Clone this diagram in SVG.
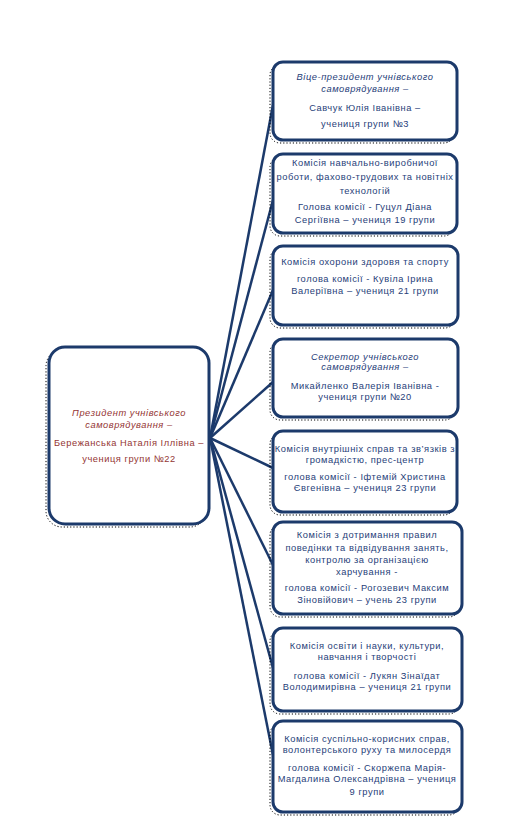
<svg xmlns="http://www.w3.org/2000/svg" width="511" height="822" viewBox="0 0 511 822">
<style>
.box{fill:#fff;stroke:#1c3a6b;stroke-width:3}
.sh{fill:none;stroke:#000;stroke-width:1;stroke-dasharray:1.2 2}
.t{font-family:"Liberation Sans",Arial,sans-serif;font-size:9.3px;letter-spacing:0.55px;fill:#1f3e79;text-anchor:middle}
.i{font-style:italic}
.r{fill:#943634}
.c{stroke:#1c3a6b;stroke-width:2.5;fill:none}
</style>
<rect width="511" height="822" fill="#fff"/>
<g id="connectors">
<line class="c" x1="210" y1="438" x2="273" y2="105"/>
<line class="c" x1="210" y1="438" x2="273" y2="200"/>
<line class="c" x1="210" y1="438" x2="273" y2="290"/>
<line class="c" x1="210" y1="438" x2="273" y2="382"/>
<line class="c" x1="210" y1="438" x2="273" y2="468"/>
<line class="c" x1="210" y1="438" x2="273" y2="565"/>
<line class="c" x1="210" y1="438" x2="273" y2="668"/>
<line class="c" x1="210" y1="438" x2="273" y2="755"/>
</g>
<g id="president">
<rect class="sh" x="46" y="350" width="160" height="177" rx="16"/>
<rect class="box" x="49" y="347" width="160" height="177" rx="16"/>
<text class="t i r" x="129" y="416">Президент учнівського</text>
<text class="t i r" x="129" y="428">самоврядування –</text>
<text class="t r" x="129" y="446">Бережанська Наталія Іллівна –</text>
<text class="t r" x="129" y="462">учениця групи №22</text>
</g>
<g id="vice">
<rect class="sh" x="270" y="65" width="184" height="78" rx="10"/>
<rect class="box" x="273" y="62" width="184" height="78" rx="10"/>
<text class="t i" x="365" y="80">Віце-президент учнівського</text>
<text class="t i" x="365" y="92">самоврядування –</text>
<text class="t" x="365" y="111">Савчук Юлія Іванівна –</text>
<text class="t" x="365" y="127">учениця групи №3</text>
</g>
<g id="c1">
<rect class="sh" x="270" y="157" width="184" height="79" rx="10"/>
<rect class="box" x="273" y="154" width="184" height="79" rx="10"/>
<text class="t" x="365" y="166">Комісія навчально-виробничої</text>
<text class="t" x="365" y="180">роботи, фахово-трудових та новітніх</text>
<text class="t" x="365" y="194">технологій</text>
<text class="t" x="365" y="210">Голова комісії - Гуцул Діана</text>
<text class="t" x="365" y="223">Сергіївна – учениця 19 групи</text>
</g>
<g id="c2">
<rect class="sh" x="270" y="249" width="185" height="79" rx="10"/>
<rect class="box" x="273" y="246" width="185" height="79" rx="10"/>
<text class="t" x="365" y="265">Комісія охорони здоровя та спорту</text>
<text class="t" x="365" y="282">голова комісії - Кувіла Ірина</text>
<text class="t" x="365" y="294">Валеріївна – учениця 21 групи</text>
</g>
<g id="secretary">
<rect class="sh" x="270" y="342" width="185" height="78" rx="10"/>
<rect class="box" x="273" y="339" width="185" height="78" rx="10"/>
<text class="t i" x="365" y="360">Секретор учнівського</text>
<text class="t i" x="365" y="370">самоврядування –</text>
<text class="t" x="365" y="389">Микайленко Валерія Іванівна -</text>
<text class="t" x="365" y="400">учениця групи №20</text>
</g>
<g id="c3">
<rect class="sh" x="270" y="434" width="184" height="81" rx="10"/>
<rect class="box" x="273" y="431" width="184" height="81" rx="10"/>
<text class="t" x="365" y="452">Комісія внутрішніх справ та зв’язків з</text>
<text class="t" x="365" y="463">громадкістю, прес-центр</text>
<text class="t" x="365" y="480">голова комісії - Іфтемій Христина</text>
<text class="t" x="365" y="491">Євгенівна – учениця 23 групи</text>
</g>
<g id="c4">
<rect class="sh" x="270" y="525" width="189" height="92" rx="10"/>
<rect class="box" x="273" y="522" width="189" height="92" rx="10"/>
<text class="t" x="367" y="538">Комісія з дотримання правил</text>
<text class="t" x="367" y="551">поведінки та відвідування занять,</text>
<text class="t" x="367" y="563">контролю за організацією</text>
<text class="t" x="367" y="575">харчування -</text>
<text class="t" x="367" y="591">голова комісії -  Рогозевич Максим</text>
<text class="t" x="367" y="603">Зіновійович – учень 23 групи</text>
</g>
<g id="c5">
<rect class="sh" x="270" y="631" width="189" height="83" rx="10"/>
<rect class="box" x="273" y="628" width="189" height="83" rx="10"/>
<text class="t" x="367" y="649">Комісія освіти і науки, культури,</text>
<text class="t" x="367" y="660">навчання і творчості</text>
<text class="t" x="367" y="679">голова комісії - Лукян Зінаїдат</text>
<text class="t" x="367" y="690">Володимирівна – учениця 21 групи</text>
</g>
<g id="c6">
<rect class="sh" x="270" y="724" width="189" height="91" rx="10"/>
<rect class="box" x="273" y="721" width="189" height="91" rx="10"/>
<text class="t" x="367" y="742">Комісія суспільно-корисних справ,</text>
<text class="t" x="367" y="753">волонтерського руху та милосердя</text>
<text class="t" x="367" y="771">голова комісії - Скоржепа Марія-</text>
<text class="t" x="367" y="782">Магдалина Олександрівна – учениця</text>
<text class="t" x="367" y="795">9 групи</text>
</g>
</svg>
